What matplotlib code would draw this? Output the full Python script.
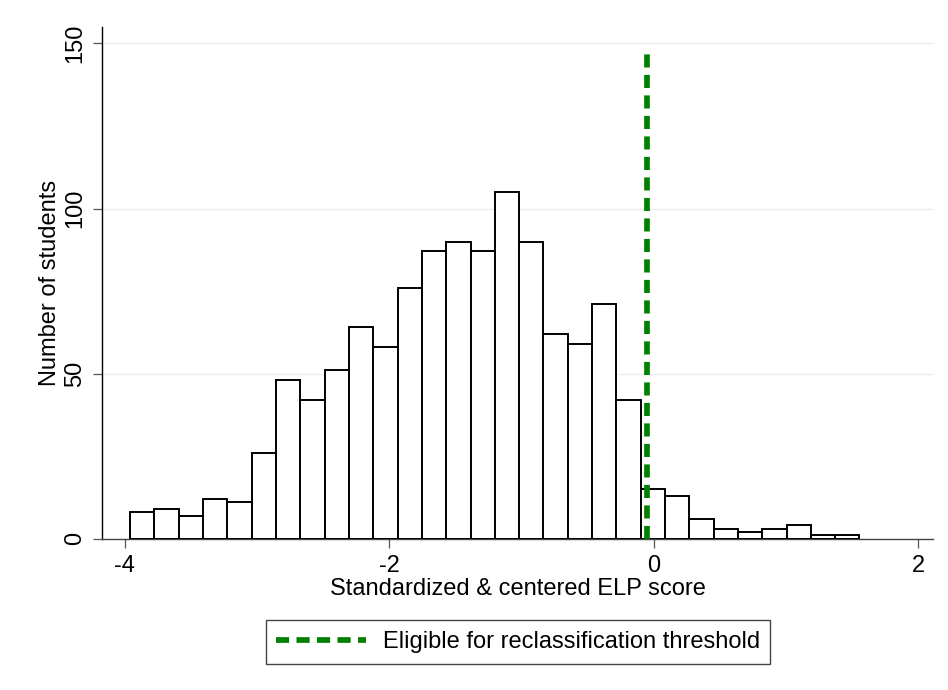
import numpy as np
import matplotlib
matplotlib.use("Agg")
import matplotlib.pyplot as plt

# histogram of standardized & centered ELP scores
bin_start = -3.957
bin_width = 0.1837
counts = [8, 9, 7, 12, 11, 26, 48, 42, 51, 64,
          58, 76, 87, 90, 87, 105, 90, 62, 59, 71,
          42, 15, 13, 6, 3, 2, 3, 4, 1, 1]
threshold = -0.05

xticks = [-4, -2, 0, 2]
yticks = [0, 50, 100, 150]

plt.rcParams['font.family'] = ['Liberation Sans', 'DejaVu Sans']
fs = 17

fig = plt.figure(figsize=(9.48, 6.9), dpi=100)
ax = fig.add_axes([0.1076, 0.2194, 0.8766, 0.7415])

edges = bin_start + bin_width * np.arange(len(counts))
ax.bar(edges, counts, width=bin_width, align='edge', color='white',
       edgecolor='black', linewidth=1.4, zorder=3)

ax.plot([threshold, threshold], [0, 148], color='#008000', linewidth=4.1,
        linestyle=(0, (2.3, 1.3)), zorder=4,
        label='Eligible for reclassification threshold')

ax.set_xlim(-4.17, 2.11)
ax.set_ylim(0, 155)
ax.set_xticks(xticks)
ax.set_yticks(yticks)
ax.set_xticklabels([str(t) for t in xticks], fontsize=fs)
ax.set_yticklabels([str(t) for t in yticks], fontsize=fs, rotation=90,
                   va='center')
ax.tick_params(axis='both', direction='out', length=6.5, width=0.9,
               color='#555555', pad=5)

ax.grid(axis='y', color='#e6eef1', linewidth=1.0, zorder=0)
ax.set_axisbelow(True)

for s in ['top', 'right']:
    ax.spines[s].set_visible(False)
ax.spines['left'].set_color('black')
ax.spines['bottom'].set_color('#444444')
ax.spines['left'].set_linewidth(1.0)
ax.spines['bottom'].set_linewidth(1.0)

ax.set_xlabel('Standardized & centered ELP score', fontsize=fs, labelpad=1)
ax.set_ylabel('Number of students', fontsize=fs, labelpad=2)

leg = fig.legend(loc='center', bbox_to_anchor=(0.5464, 0.0696),
                 fontsize=fs, fancybox=False, edgecolor='#444444',
                 handlelength=3.8, handletextpad=0.7, borderpad=0.45,
                 borderaxespad=0, framealpha=1)
leg.get_frame().set_linewidth(1.0)

fig.savefig('out.png', dpi=100, facecolor='white')
